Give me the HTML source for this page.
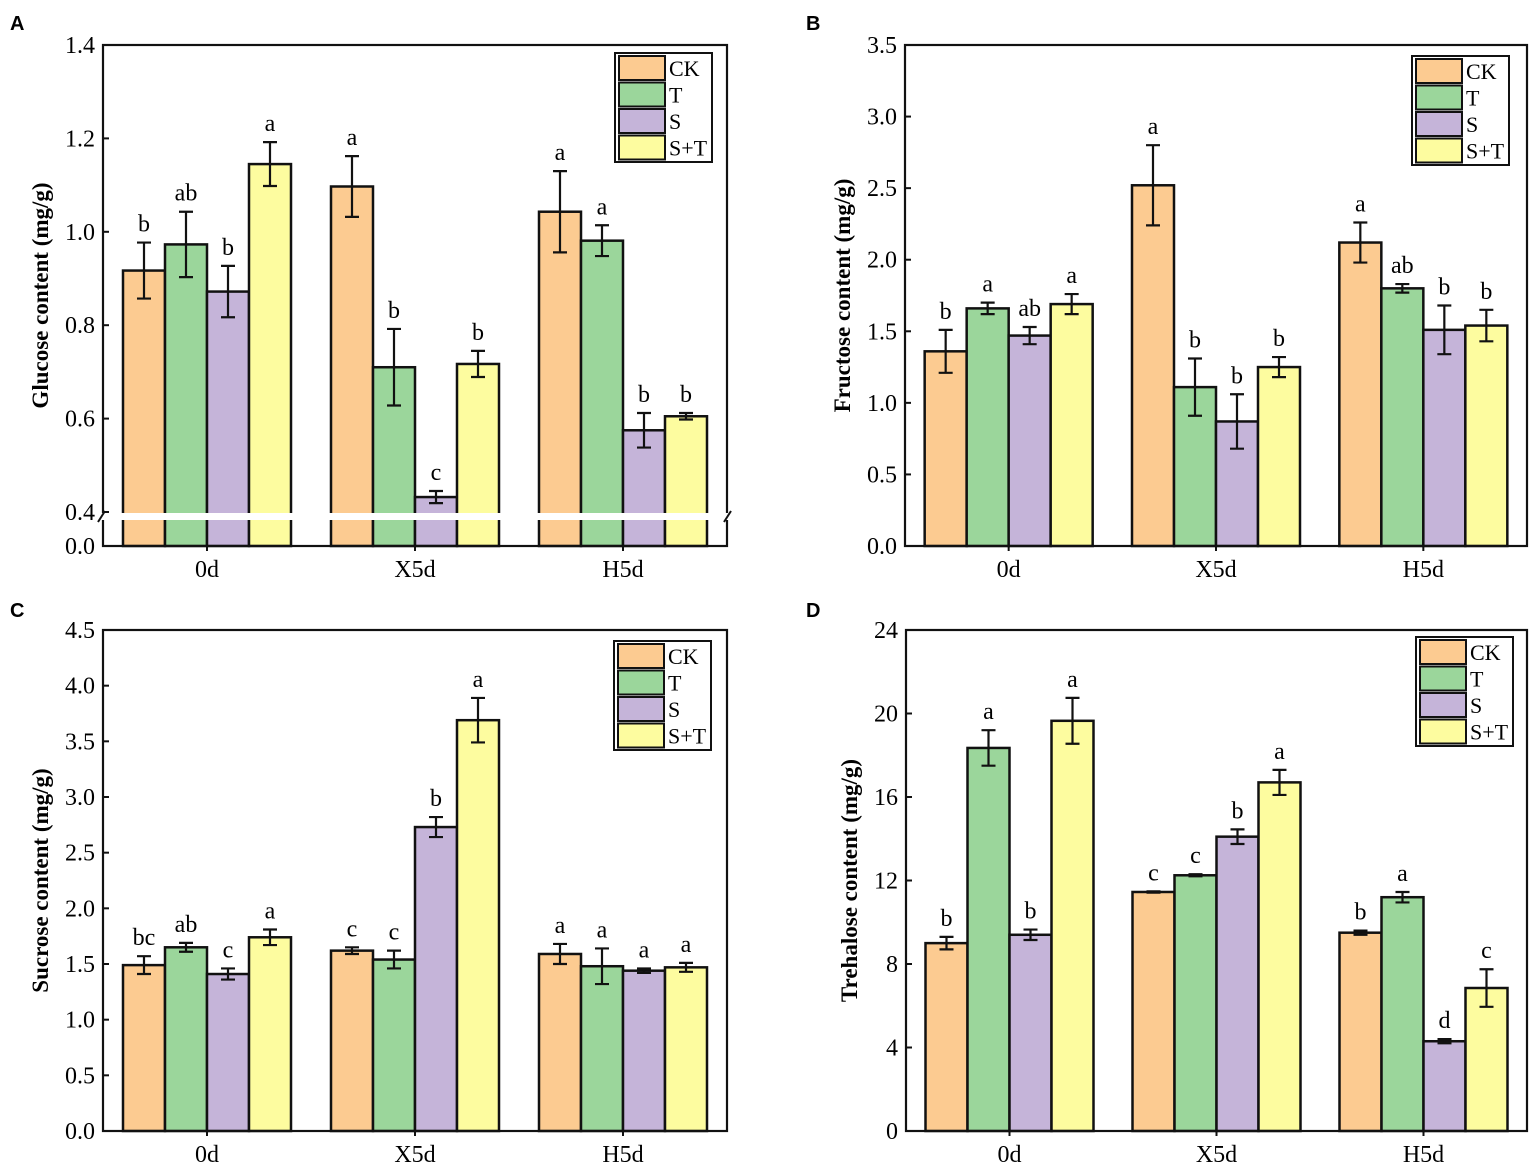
<!DOCTYPE html>
<html><head><meta charset="utf-8"><style>
body{margin:0;background:#fff;}
svg{font-family:"Liberation Serif",serif;}
</style></head><body>
<svg id="fig" width="1535" height="1167" viewBox="0 0 1535 1167" xmlns="http://www.w3.org/2000/svg"></svg>
<script>
const categories = ["0d","X5d","H5d"];
const seriesNames = ["CK","T","S","S+T"];
const colors = ["#fccb91","#9bd69b","#c5b4d9","#fdfc9f"];

const gluVals = [[0.917,1.097,1.043],[0.973,0.710,0.981],[0.872,0.432,0.575],[1.145,0.717,0.605]];
const gluErr = [[0.06,0.065,0.087],[0.07,0.082,0.033],[0.055,0.013,0.037],[0.047,0.028,0.007]];
const gluLet = [["b","a","a"],["ab","b","a"],["b","c","b"],["a","b","b"]];
const gluTicks = ["0.0","0.4","0.6","0.8","1.0","1.2","1.4"];

const fruVals = [[1.36,2.52,2.12],[1.66,1.11,1.80],[1.47,0.87,1.51],[1.69,1.25,1.54]];
const fruErr = [[0.15,0.28,0.14],[0.04,0.2,0.03],[0.06,0.19,0.17],[0.07,0.07,0.11]];
const fruLet = [["b","a","a"],["a","b","ab"],["ab","b","b"],["a","b","b"]];
const fruTicks = ["0.0","0.5","1.0","1.5","2.0","2.5","3.0","3.5"];

const sucVals = [[1.49,1.62,1.59],[1.65,1.54,1.48],[1.41,2.73,1.44],[1.74,3.69,1.47]];
const sucErr = [[0.08,0.03,0.09],[0.04,0.08,0.16],[0.05,0.09,0.02],[0.07,0.2,0.04]];
const sucLet = [["bc","c","a"],["ab","c","a"],["c","b","a"],["a","a","a"]];
const sucTicks = ["0.0","0.5","1.0","1.5","2.0","2.5","3.0","3.5","4.0","4.5"];

const treVals = [[9.0,11.45,9.5],[18.35,12.25,11.2],[9.4,14.1,4.3],[19.65,16.7,6.85]];
const treErr = [[0.3,0.03,0.1],[0.85,0.05,0.25],[0.25,0.35,0.1],[1.1,0.6,0.9]];
const treLet = [["b","c","b"],["a","c","a"],["b","b","d"],["a","a","c"]];
const treTicks = ["0","4","8","12","16","20","24"];

const NS="http://www.w3.org/2000/svg";
const svg=document.getElementById('fig');
function mk(tag,attrs,parent){const e=document.createElementNS(NS,tag);for(const k in attrs)e.setAttribute(k,attrs[k]);(parent||svg).appendChild(e);return e;}

function panel(o){
  const g=mk('g',{});
  
  
  const x0=o.x0,x1=o.x1,y0=o.y0,y1=o.y1;
  const yScale=o.yScale;
  const pl=mk('text',{x:o.lx,y:o.ly,'font-family':'Liberation Sans, sans-serif','font-weight':'bold','font-size':20},g);
  pl.textContent=o.letter;
  
  
  const gw=(x1-x0)/3, bw=42;
  for(let s=0;s<4;s++){
    for(let c=0;c<3;c++){
      const cx=x0+gw*(c+0.5);
      const bx=cx-2*bw+s*bw;
      const v=o.vals[s][c], e=o.err[s][c];
      const yt=yScale(v);
      const r=mk('rect',{x:bx,y:yt,width:bw,height:y1-yt,fill:colors[s],stroke:'#111','stroke-width':2.5},g);
      
      
      const ex=bx+bw/2, eh=yScale(v+e), el=yScale(v-e);
      const eb=mk('path',{d:`M${ex},${eh}V${el}M${ex-7},${eh}H${ex+7}M${ex-7},${el}H${ex+7}`,stroke:'#111','stroke-width':2.2,fill:'none'},g);
      
      
      const lt=mk('text',{x:ex,y:eh-11,'text-anchor':'middle','font-size':24},g);
      lt.textContent=o.lets[s][c];
      
      
    }
  }
  const fr=mk('rect',{x:x0,y:y0,width:x1-x0,height:y1-y0,fill:'none',stroke:'#111','stroke-width':2.2},g);
  
  
  if(o.brk){
    const b=mk('rect',{x:x0-6,y:513,width:x1-x0+12,height:7,fill:'#fff'},g);
    
    
    mk('path',{d:`M${x0-5},522L${x0+2},511M${x1-3},522L${x1+4},511`,stroke:'#111','stroke-width':2,fill:'none'},g);
  }
  o.ticks.forEach(t=>{
    const y=yScale(parseFloat(t));
    mk('line',{x1:x0,x2:x0+6,y1:y,y2:y,stroke:'#111','stroke-width':2},g);
    const tx=mk('text',{x:x0-8,y:y+8,'text-anchor':'end','font-size':24},g);
    tx.textContent=t;
    
    
  });
  categories.forEach((c,i)=>{
    const cx=x0+gw*(i+0.5);
    mk('line',{x1:cx,x2:cx,y1:y1,y2:y1+5,stroke:'#111','stroke-width':2},g);
    const tx=mk('text',{x:cx,y:y1+31,'text-anchor':'middle','font-size':24},g);
    tx.textContent=c;
    
    
  });
  const yt=mk('text',{x:0,y:0,'text-anchor':'middle','font-size':23,'font-weight':'bold',transform:`translate(${o.tx},${(y0+y1)/2}) rotate(-90)`},g);
  yt.textContent=o.title;
  
  
  const lg=mk('g',{},g);
  
  
  mk('rect',{x:o.legX,y:o.legY,width:97,height:109,fill:'#fff',stroke:'#111','stroke-width':2},lg);
  seriesNames.forEach((n,i)=>{
    const ry=o.legY+3+i*26.5;
    const sw=mk('rect',{x:o.legX+4,y:ry,width:46,height:24,fill:colors[i],stroke:'#111','stroke-width':2},lg);
    
    
    const lt=mk('text',{x:o.legX+54,y:ry+20,'font-size':22},lg);
    lt.textContent=n;
    
    
  });
}

panel({letter:'A',lx:10,ly:30,x0:103,x1:727,y0:45,y1:546,brk:true,
  yScale:v=> v<0.4 ? 546-(v/0.4)*34 : 512-(v-0.4)*467,
  vals:gluVals,err:gluErr,lets:gluLet,ticks:gluTicks,title:'Glucose content (mg/g)',tx:48,legX:615,legY:53});
panel({letter:'B',lx:806,ly:30,x0:905,x1:1527,y0:45,y1:546,
  yScale:v=>546-v*(501/3.5),
  vals:fruVals,err:fruErr,lets:fruLet,ticks:fruTicks,title:'Fructose content (mg/g)',tx:850,legX:1412,legY:56});
panel({letter:'C',lx:10,ly:617,x0:103,x1:727,y0:630,y1:1131,
  yScale:v=>1131-v*(501/4.5),
  vals:sucVals,err:sucErr,lets:sucLet,ticks:sucTicks,title:'Sucrose content (mg/g)',tx:48,legX:614,legY:641});
panel({letter:'D',lx:806,ly:617,x0:906,x1:1527,y0:630,y1:1131,
  yScale:v=>1131-v*(501/24),
  vals:treVals,err:treErr,lets:treLet,ticks:treTicks,title:'Trehalose content (mg/g)',tx:857,legX:1416,legY:637});
</script>
</body></html>
